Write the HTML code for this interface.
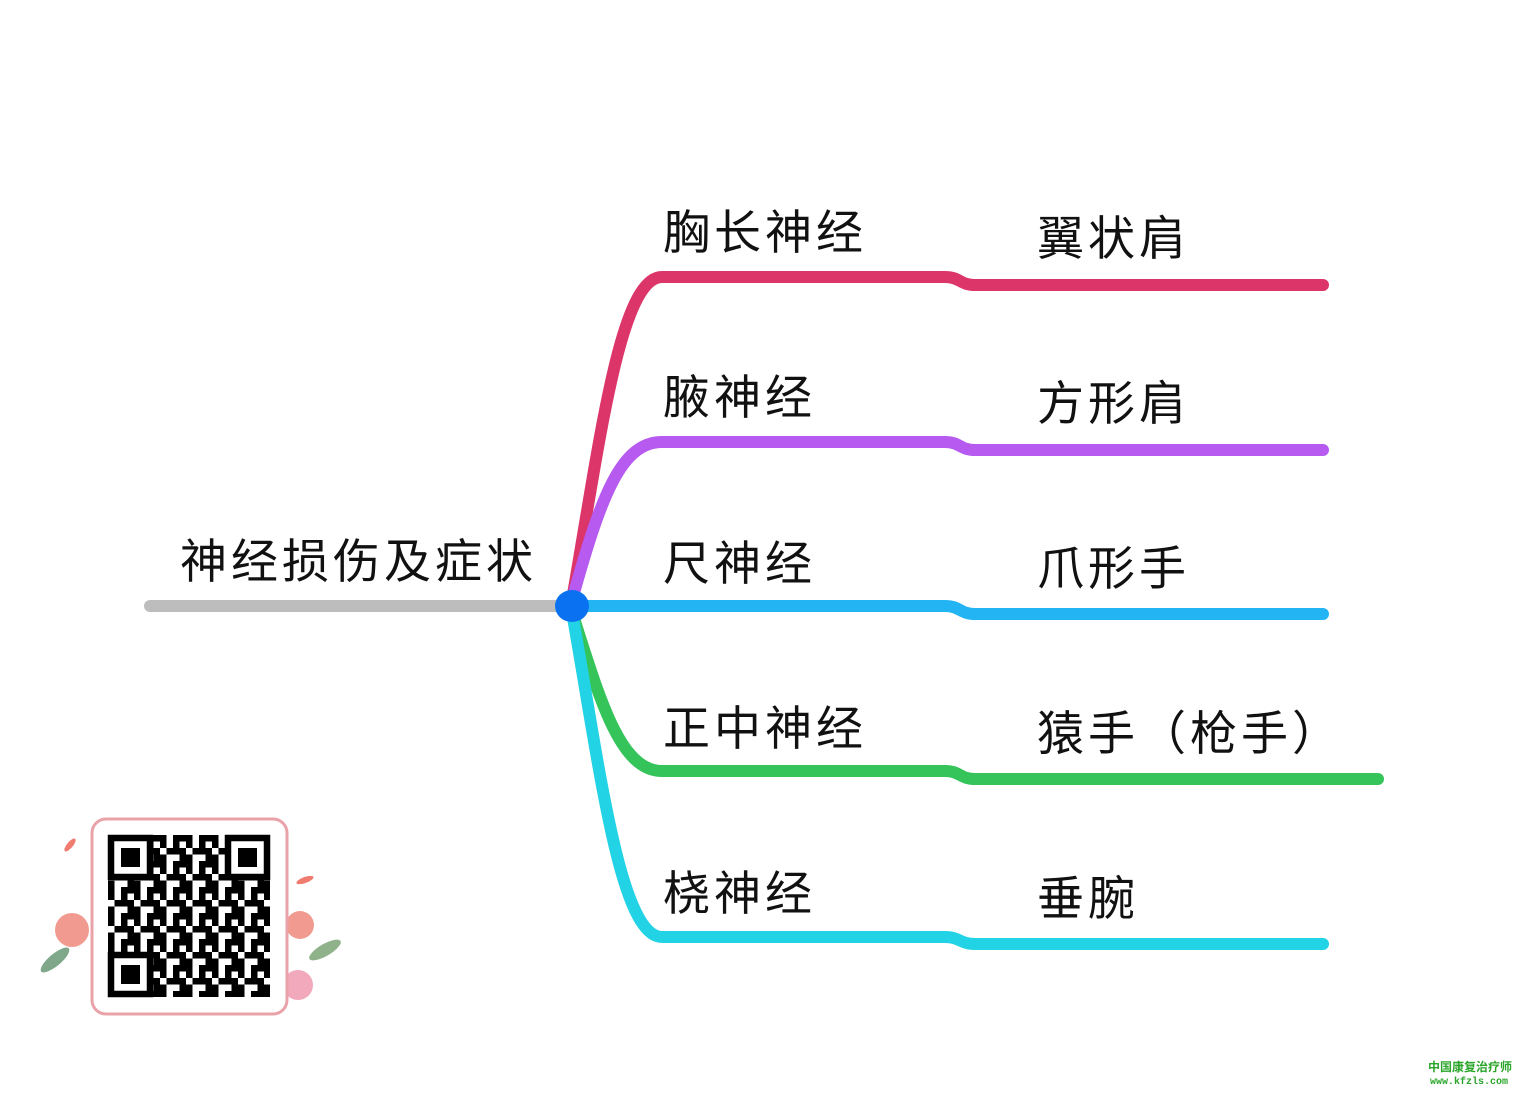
<!DOCTYPE html>
<html><head><meta charset="utf-8"><style>
html,body{margin:0;padding:0;background:#fff;}
svg{display:block}
text{font-family:"Liberation Sans","Noto Sans CJK SC",sans-serif;fill:#111;}
</style></head><body>
<svg width="1528" height="1093" viewBox="0 0 1528 1093" xmlns="http://www.w3.org/2000/svg">
<defs>
<pattern id="qr" x="108" y="835" width="26" height="26" patternUnits="userSpaceOnUse">
<rect x="0" y="0" width="6.5" height="13" fill="#000"/>
<rect x="13" y="0" width="13" height="6.5" fill="#000"/>
<rect x="6.5" y="13" width="13" height="6.5" fill="#000"/>
<rect x="19.5" y="13" width="6.5" height="13" fill="#000"/>
<rect x="0" y="19.5" width="6.5" height="6.5" fill="#000"/>
<rect x="13" y="6.5" width="6.5" height="6.5" fill="#000"/>
</pattern>
</defs>
<g fill="none" stroke-linecap="round" stroke-width="12">
<path d="M150,606 L560,606" stroke="#bdbdbd"/>
<path d="M572,600 C600,440 620,277 662,277 L945,277 C960,277 960,285 975,285 L1323,285" stroke="#dc3569"/>
<path d="M572,600 C600,500 620,442 662,442 L945,442 C960,442 960,450 975,450 L1323,450" stroke="#b65af0"/>
<path d="M572,606 L945,606 C960,606 960,614 975,614 L1323,614" stroke="#23b4f4"/>
<path d="M572,612 C600,700 620,771 662,771 L945,771 C960,771 960,779 975,779 L1378,779" stroke="#35c45a"/>
<path d="M572,612 C600,770 620,937 662,937 L945,937 C960,937 960,944 975,944 L1323,944" stroke="#22d3e6"/>
</g>
<ellipse cx="572" cy="606" rx="17" ry="16" fill="#0a72f0"/>
<g font-size="47" style="letter-spacing:4px">
<text x="180" y="578">神经损伤及症状</text>
<text x="663" y="249">胸长神经</text>
<text x="663" y="414">腋神经</text>
<text x="663" y="580">尺神经</text>
<text x="663" y="745">正中神经</text>
<text x="663" y="910">桡神经</text>
<text x="1037" y="255">翼状肩</text>
<text x="1037" y="420">方形肩</text>
<text x="1037" y="585">爪形手</text>
<text x="1037" y="750">猿手（枪手）</text>
<text x="1037" y="915">垂腕</text>
</g>
<!-- flowers -->
<circle cx="72" cy="930" r="17" fill="#f09a90"/>
<circle cx="300" cy="925" r="14" fill="#f09a90"/>
<circle cx="298" cy="985" r="15" fill="#f2a9bb"/>
<ellipse cx="55" cy="960" rx="18" ry="6" fill="#7fa88a" transform="rotate(-40 55 960)"/>
<ellipse cx="325" cy="950" rx="18" ry="6" fill="#8fb28a" transform="rotate(-30 325 950)"/>
<ellipse cx="70" cy="845" rx="8" ry="3" fill="#f07b6f" transform="rotate(-50 70 845)"/>
<ellipse cx="305" cy="880" rx="9" ry="3" fill="#f07b6f" transform="rotate(-20 305 880)"/>
<rect x="92" y="819" width="195" height="195" rx="14" fill="#fff" stroke="#e9a3a8" stroke-width="3"/>
<rect x="108" y="835" width="162" height="162" fill="url(#qr)"/>
<g fill="#fff" stroke="#000" stroke-width="6.5">
<rect x="111" y="838" width="39" height="39"/>
<rect x="228" y="838" width="39" height="39"/>
<rect x="111" y="955" width="39" height="39"/>
</g>
<g fill="#000">
<rect x="121" y="848" width="19" height="19"/>
<rect x="238" y="848" width="19" height="19"/>
<rect x="121" y="965" width="19" height="19"/>
</g>
<text x="1428" y="1071" font-size="12" font-weight="bold" style="fill:#2aa52a">中国康复治疗师</text>
<text x="1430" y="1084" font-size="10" font-weight="bold" style="fill:#2aa52a;font-family:'Liberation Mono',monospace">www.kfzls.com</text>
</svg>
</body></html>
